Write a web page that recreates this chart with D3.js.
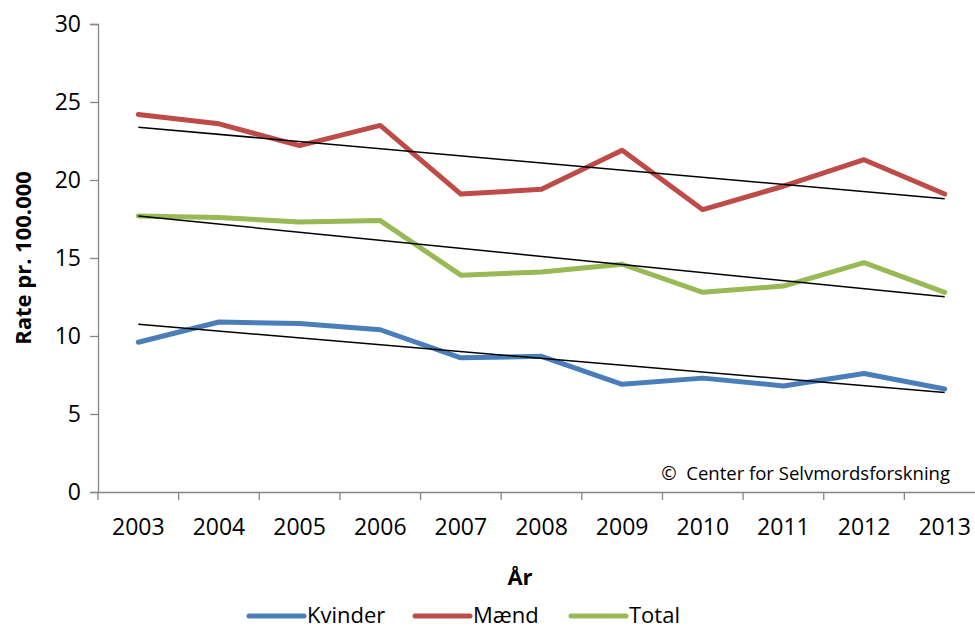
<!DOCTYPE html>
<html>
<head>
<meta charset="utf-8">
<script src="https://cdn.jsdelivr.net/npm/d3@7"></script>
<style>
  html, body { margin: 0; padding: 0; background: #fff; }
  svg { display: block; font-family: "Open Sans", "Noto Sans", sans-serif; }
</style>
</head>
<body>
<svg id="chart" width="975" height="630"></svg>
<script>
const years = ["2003","2004","2005","2006","2007","2008","2009","2010","2011","2012","2013"];
const kvinder = [9.6, 10.9, 10.8, 10.4, 8.6, 8.7, 6.9, 7.3, 6.8, 7.6, 6.6];
const maend   = [24.2, 23.6, 22.2, 23.5, 19.1, 19.4, 21.9, 18.1, 19.6, 21.3, 19.1];
const total   = [17.7, 17.6, 17.3, 17.4, 13.9, 14.1, 14.6, 12.8, 13.2, 14.7, 12.8];
const yTicks  = [0, 5, 10, 15, 20, 25, 30];
const seriesNames = ["Kvinder", "Mænd", "Total"];
const seriesColors = ["#4A7EBB", "#BE4B48", "#98B954"];

(function () {
const series = [kvinder, maend, total].map((v, i) => ({name: seriesNames[i], values: v, color: seriesColors[i]}));

const svg = d3.select("#chart");
const pLeft = 98, pRight = 985, pTop = 24, pBottom = 492;

const x = d3.scaleBand().domain(years).range([pLeft, pRight]);
const xc = d => x(d) + x.bandwidth() / 2;
const y = d3.scaleLinear().domain([0, 30]).range([pBottom, pTop]);

// Axes
const yAxis = d3.axisLeft(y).tickValues(yTicks).tickSize(8).tickPadding(9).tickFormat(d3.format("d"));
const gy = svg.append("g").attr("transform", `translate(${pLeft},0)`).call(yAxis);
gy.select(".domain").attr("stroke", "#868686").attr("stroke-width", 1.3);
gy.selectAll(".tick line").attr("stroke", "#868686").attr("stroke-width", 1.3);
gy.selectAll(".tick text").attr("font-size", 23).attr("fill", "#000").attr("font-family", "Open Sans").attr("dy", "0.34em");

const xAxis = d3.axisBottom(x).tickSize(0);
const gx = svg.append("g").attr("transform", `translate(0,${pBottom})`).call(xAxis);
gx.select(".domain").attr("stroke", "#868686").attr("stroke-width", 1.3);
gx.selectAll(".tick text").attr("font-size", 23).attr("fill", "#000").attr("font-family", "Open Sans")
  .attr("y", 43).attr("dy", 0);
// ticks between categories
const boundaries = years.map(d => x(d)).concat([pRight]);
svg.append("g").selectAll("line").data(boundaries).join("line")
  .attr("x1", d => d).attr("x2", d => d)
  .attr("y1", pBottom).attr("y2", pBottom + 8)
  .attr("stroke", "#868686").attr("stroke-width", 1.3);

// Lines
const line = d3.line().x((d, i) => xc(years[i])).y(d => y(d)).curve(d3.curveLinear);
svg.append("g").selectAll("path").data(series).join("path")
  .attr("d", d => line(d.values))
  .attr("fill", "none")
  .attr("stroke", d => d.color)
  .attr("stroke-width", 5)
  .attr("stroke-linejoin", "round")
  .attr("stroke-linecap", "round");

// Linear trendlines (least squares)
function trend(values) {
  const n = values.length;
  const xs = values.map((_, i) => i);
  const mx = d3.mean(xs), my = d3.mean(values);
  let sxy = 0, sxx = 0;
  xs.forEach((xi, i) => { sxy += (xi - mx) * (values[i] - my); sxx += (xi - mx) ** 2; });
  const b = sxy / sxx, a = my - b * mx;
  return [[0, a], [n - 1, a + b * (n - 1)]];
}
svg.append("g").selectAll("line").data(series).join("line")
  .each(function(d) {
    const t = trend(d.values);
    d3.select(this)
      .attr("x1", xc(years[t[0][0]])).attr("y1", y(t[0][1]))
      .attr("x2", xc(years[t[1][0]])).attr("y2", y(t[1][1]));
  })
  .attr("stroke", "#000").attr("stroke-width", 1.5);

// Copyright
svg.append("text").attr("x", 950).attr("y", 480).attr("text-anchor", "end")
  .attr("font-size", 18.5).attr("fill", "#000")
  .text("©\u00A0\u00A0Center for Selvmordsforskning");

// Axis titles
svg.append("text").attr("x", 520).attr("y", 585).attr("text-anchor", "middle")
  .attr("font-size", 22).attr("font-weight", "bold").attr("fill", "#000").text("År");
svg.append("text").attr("transform", `translate(31,258) rotate(-90)`).attr("text-anchor", "middle")
  .attr("font-size", 22).attr("font-weight", "bold").attr("fill", "#000").text("Rate pr. 100.000");

// Legend
const legendX = [249, 415, 571];
const lg = svg.append("g").selectAll("g").data(series).join("g")
  .attr("transform", (d, i) => `translate(${legendX[i]},616)`);
lg.append("line").attr("x1", 0).attr("x2", 55).attr("y1", 0).attr("y2", 0)
  .attr("stroke", d => d.color).attr("stroke-width", 5).attr("stroke-linecap", "round");
lg.append("text").attr("x", 58).attr("y", 0).attr("dy", "0.34em")
  .attr("font-size", 22).attr("fill", "#000").text(d => d.name);
})();
</script>
</body>
</html>
